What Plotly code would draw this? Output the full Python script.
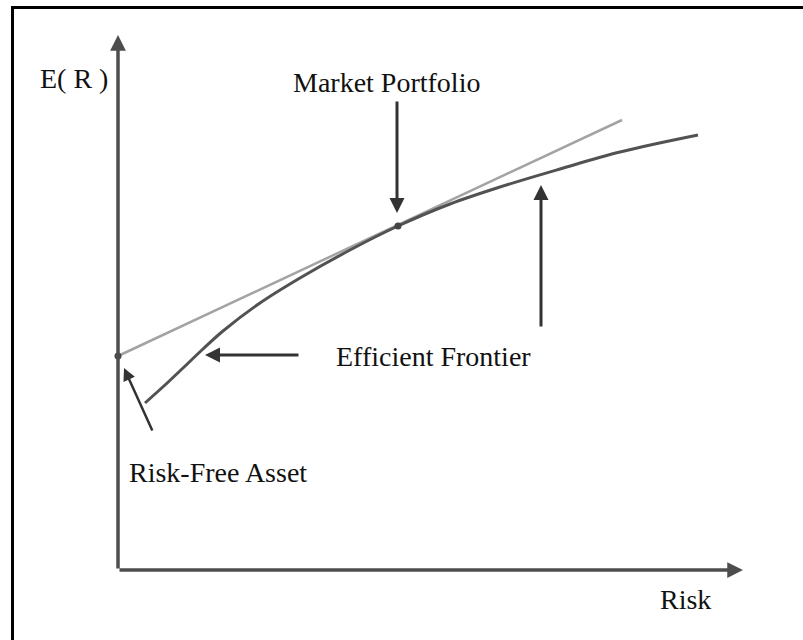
import plotly.graph_objects as go

# ---- data (Risk on x, E(R) on y) ----
risk_free = {"risk": 0.0, "ret": 2.14}
market = {"risk": 2.80, "ret": 3.44}
cml_risk = [0.0, 2.80, 5.04]
cml_ret = [2.14, 3.45, 4.50]
frontier_risk = [0.27, 0.47, 0.65, 0.85, 1.05, 1.42, 1.82, 2.32, 2.80, 3.32, 3.82, 4.42, 5.02, 5.80]
frontier_ret = [1.67, 1.85, 2.02, 2.21, 2.39, 2.67, 2.92, 3.20, 3.44, 3.66, 3.83, 4.01, 4.18, 4.35]

labels = {
    "yaxis": "E( R )",
    "xaxis": "Risk",
    "market": "Market Portfolio",
    "frontier": "Efficient Frontier",
    "riskfree": "Risk-Free Asset",
}

W, H = 803, 640
X0, Y0, S = 118, 570, 100.0  # pixel origin and pixels per unit
x_range = [-X0 / S, (W - X0) / S]
y_range = [(Y0 - H) / S, Y0 / S]

FONT = "Liberation Serif"
AX_COL = "#4d4d4d"
ARR_COL = "#333333"

fig = go.Figure()

# Capital market line
fig.add_trace(go.Scatter(x=cml_risk, y=cml_ret, mode="lines",
                         line=dict(color="#a3a3a3", width=2.5), hoverinfo="skip"))
# Efficient frontier
fig.add_trace(go.Scatter(x=frontier_risk, y=frontier_ret, mode="lines",
                         line=dict(color="#525252", width=3, shape="spline"), hoverinfo="skip"))
# Points
fig.add_trace(go.Scatter(x=[risk_free["risk"], market["risk"]], y=[risk_free["ret"], market["ret"]],
                         mode="markers", marker=dict(color="#444444", size=7), hoverinfo="skip"))

def arrow(x, y, ax, ay, color=ARR_COL, width=3, head=2, size=1.0):
    fig.add_annotation(x=x, y=y, ax=ax, ay=ay, xref="x", yref="y", axref="x", ayref="y",
                       text="", showarrow=True, arrowhead=head, arrowsize=size,
                       arrowwidth=width, arrowcolor=color, standoff=0, startstandoff=0)

# axes
arrow(0, 5.35, 0, 0, color=AX_COL, width=3.5, size=0.9)
arrow(6.25, 0, 0, 0, color=AX_COL, width=3.5, size=0.9)

# pointer arrows
arrow(2.79, 3.57, 2.79, 4.70)
arrow(4.23, 3.85, 4.23, 2.42)
arrow(0.87, 2.15, 1.82, 2.15)
arrow(0.06, 2.02, 0.35, 1.38, width=2.5)

def label(text, x, y, xanchor="center"):
    fig.add_annotation(x=x, y=y, xref="x", yref="y", text=text, showarrow=False,
                       xanchor=xanchor, yanchor="middle",
                       font=dict(family=FONT, size=28, color="#111111"))

label(labels["yaxis"], -0.44, 4.92)
label(labels["market"], 1.73, 4.88, xanchor="left")
label(labels["frontier"], 2.16, 2.14, xanchor="left")
label(labels["riskfree"], 0.09, 0.98, xanchor="left")
label(labels["xaxis"], 5.40, -0.29, xanchor="left")

# frame (top and left edges)
fig.add_shape(type="line", xref="paper", yref="paper", x0=11 / W, x1=1, y0=1 - 7.5 / H, y1=1 - 7.5 / H,
              line=dict(color="black", width=3))
fig.add_shape(type="line", xref="paper", yref="paper", x0=12.5 / W, x1=12.5 / W, y0=0, y1=1 - 6 / H,
              line=dict(color="black", width=3))

fig.update_layout(
    width=W, height=H, margin=dict(l=0, r=0, t=0, b=0),
    paper_bgcolor="white", plot_bgcolor="white", showlegend=False,
    xaxis=dict(range=x_range, visible=False, fixedrange=True),
    yaxis=dict(range=y_range, visible=False, fixedrange=True),
)

fig.write_html("out.html", config={"displayModeBar": False},
               post_script="document.body.style.margin='0';")
